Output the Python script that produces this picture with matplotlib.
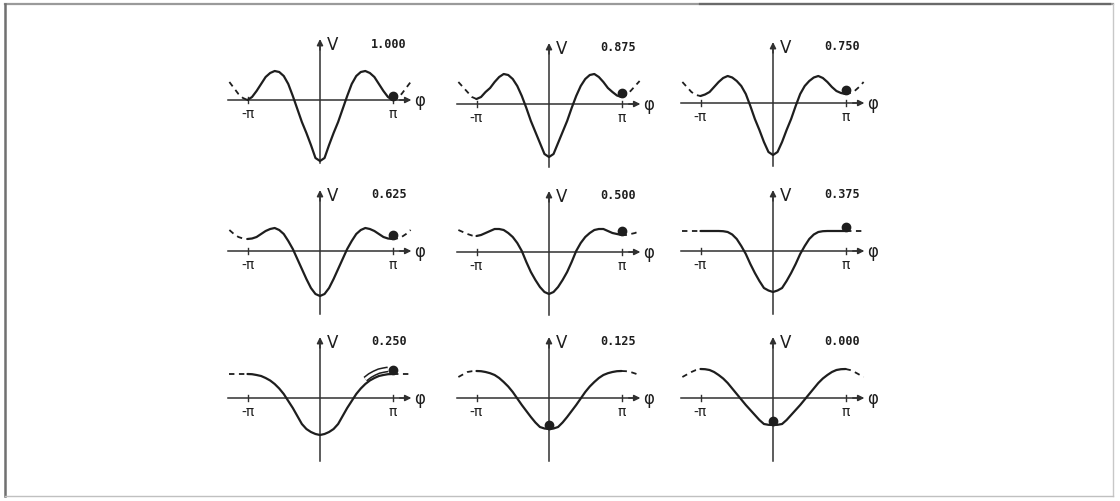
import numpy as np
import matplotlib
matplotlib.use("Agg")
import matplotlib.pyplot as plt
from matplotlib.lines import Line2D
import matplotlib.transforms as mtransforms

# ---------------- data ----------------
# phi in units of pi, step 1/16
phi = [-1.25, -1.1875, -1.125, -1.0625, -1.0, -0.9375, -0.875, -0.8125, -0.75, -0.6875,
       -0.625, -0.5625, -0.5, -0.4375, -0.375, -0.3125, -0.25, -0.1875, -0.125, -0.0625,
       0.0,
       0.0625, 0.125, 0.1875, 0.25, 0.3125, 0.375, 0.4375, 0.5, 0.5625, 0.625,
       0.6875, 0.75, 0.8125, 0.875, 0.9375, 1.0, 1.0625, 1.125, 1.1875, 1.25]

labels = ["1.000", "0.875", "0.750", "0.625", "0.500", "0.375", "0.250", "0.125", "0.000"]

v_1000 = [1.8, 1.2, 0.6, 0.2, 0.0, 0.3, 0.9, 1.6, 2.3, 2.7, 2.9, 2.8, 2.4, 1.6, 0.4, -0.9,
          -2.2, -3.3, -4.5, -5.8,
          -6.1,
          -5.8, -4.5, -3.3, -2.2, -0.9, 0.4, 1.6, 2.4, 2.8, 2.9, 2.7, 2.3, 1.6, 0.9, 0.3,
          0.0, 0.2, 0.6, 1.2, 1.8]
v_0875 = [2.2, 1.7, 1.2, 0.7, 0.5, 0.7, 1.2, 1.6, 2.2, 2.7, 3.0, 2.9, 2.5, 1.8, 0.8, -0.4,
          -1.7, -2.8, -3.9, -5.0,
          -5.3,
          -5.0, -3.9, -2.8, -1.7, -0.4, 0.8, 1.8, 2.5, 2.9, 3.0, 2.7, 2.2, 1.6, 1.2, 0.85,
          0.7, 0.9, 1.3, 1.8, 2.3]
v_0750 = [2.1, 1.6, 1.1, 0.8, 0.7, 0.85, 1.1, 1.6, 2.1, 2.5, 2.7, 2.55, 2.2, 1.7, 0.9, -0.3,
          -1.6, -2.7, -3.9, -4.9,
          -5.2,
          -4.9, -3.9, -2.7, -1.6, -0.3, 0.9, 1.7, 2.2, 2.55, 2.7, 2.5, 2.1, 1.6, 1.2, 1.0,
          0.9, 1.0, 1.2, 1.6, 2.1]
v_0625 = [2.1, 1.7, 1.4, 1.25, 1.2, 1.25, 1.4, 1.7, 2.0, 2.2, 2.3, 2.1, 1.7, 1.0, 0.2, -0.8,
          -1.8, -2.8, -3.7, -4.3,
          -4.5,
          -4.3, -3.7, -2.8, -1.8, -0.8, 0.2, 1.0, 1.7, 2.1, 2.3, 2.2, 2.0, 1.7, 1.4, 1.25,
          1.2, 1.25, 1.4, 1.7, 2.1]
v_0500 = [2.2, 2.0, 1.8, 1.65, 1.6, 1.7, 1.9, 2.1, 2.3, 2.3, 2.2, 1.9, 1.5, 0.9, 0.1, -1.0,
          -2.0, -2.8, -3.5, -4.0,
          -4.2,
          -4.0, -3.5, -2.8, -2.0, -1.0, 0.1, 0.9, 1.5, 1.9, 2.2, 2.3, 2.3, 2.1, 1.9, 1.8,
          1.7, 1.7, 1.8, 1.9, 2.1]
v_0375 = [2.0, 2.0, 2.0, 2.0, 2.0, 2.0, 2.0, 2.0, 2.0, 1.98, 1.9, 1.65, 1.2, 0.5, -0.3, -1.3,
          -2.2, -3.0, -3.7, -3.95,
          -4.1,
          -3.95, -3.7, -3.0, -2.2, -1.3, -0.3, 0.5, 1.2, 1.65, 1.9, 1.98, 2.0, 2.0, 2.0, 2.0,
          2.0, 2.0, 2.0, 2.0, 2.0]
v_0250 = [2.4, 2.4, 2.4, 2.4, 2.4, 2.38, 2.3, 2.2, 2.0, 1.75, 1.4, 0.95, 0.4, -0.3, -1.0, -1.8,
          -2.6, -3.1, -3.4, -3.6,
          -3.7,
          -3.6, -3.4, -3.1, -2.6, -1.8, -1.0, -0.3, 0.4, 0.95, 1.4, 1.75, 2.0, 2.2, 2.3, 2.38,
          2.4, 2.4, 2.4, 2.4, 2.4]
v_0125 = [2.1, 2.35, 2.6, 2.68, 2.7, 2.68, 2.6, 2.48, 2.3, 2.0, 1.6, 1.15, 0.6, -0.05, -0.7, -1.3,
          -1.9, -2.45, -2.9, -3.05,
          -3.1,
          -3.05, -2.9, -2.45, -1.9, -1.3, -0.7, -0.05, 0.6, 1.15, 1.6, 2.0, 2.3, 2.48, 2.6, 2.68,
          2.7, 2.68, 2.6, 2.45, 2.3]
v_0000 = [2.1, 2.35, 2.6, 2.8, 2.9, 2.88, 2.8, 2.6, 2.3, 1.95, 1.5, 0.95, 0.4, -0.15, -0.7, -1.2,
          -1.7, -2.2, -2.6, -2.68,
          -2.7,
          -2.68, -2.6, -2.2, -1.7, -1.2, -0.7, -0.15, 0.4, 0.95, 1.5, 1.95, 2.3, 2.6, 2.8, 2.88,
          2.9, 2.8, 2.6, 2.35, 2.1]

curves = [v_1000, v_0875, v_0750, v_0625, v_0500, v_0375, v_0250, v_0125, v_0000]
ball_phi = [1.0, 1.0, 1.0, 1.0, 1.0, 1.0, 1.0, 0.0, 0.0]

# ---------------- layout ----------------
W, H = 1120, 502
fig = plt.figure(figsize=(W / 100, H / 100), dpi=100)
fig.patch.set_facecolor("white")

centers_x = [320, 549, 773]
axis_y = [[101, 105, 104], [252, 253, 252], [399, 399, 399]]
PX_PER_PI = 72.5
BOX_W, BOX_H = 240, 150
PX_PER_V = 10.0

ink = "#1e1e1e"
axc = "#303030"

for i, (vals, lab, bphi) in enumerate(zip(curves, labels, ball_phi)):
    r, c = divmod(i, 3)
    cx = centers_x[c]
    ay = axis_y[r][c]
    left = (cx - BOX_W / 2) / W
    bottom = (H - (ay + BOX_H / 2)) / H
    ax = fig.add_axes([left, bottom, BOX_W / W, BOX_H / H])
    ax.set_xlim(-BOX_W / 2 / PX_PER_PI, BOX_W / 2 / PX_PER_PI)
    ax.set_ylim(-BOX_H / 2 / PX_PER_V, BOX_H / 2 / PX_PER_V)
    ax.axis("off")

    x = np.array(phi)
    y = np.array(vals)

    # axes with arrows
    ax.plot([-1.27, 1.18], [0, 0], color=axc, lw=1.1, zorder=1)
    ax.annotate("", xy=(1.26, 0), xytext=(1.10, 0),
                arrowprops=dict(arrowstyle="-|>", color=axc, lw=1.1,
                                mutation_scale=9, shrinkA=0, shrinkB=0))
    ax.plot([0, 0], [-6.3, 5.3], color=axc, lw=1.1, zorder=1)
    ax.annotate("", xy=(0, 6.1), xytext=(0, 5.0),
                arrowprops=dict(arrowstyle="-|>", color=axc, lw=1.1,
                                mutation_scale=9, shrinkA=0, shrinkB=0))
    for t in (-1.0, 1.0):
        ax.plot([t, t], [-0.3, 0.3], color=axc, lw=1.0)

    # curve: solid inside [-pi, pi], dashed outside
    inside = (x >= -1.0) & (x <= 1.0)
    ax.plot(x[inside], y[inside], color=ink, lw=1.6, zorder=3,
            solid_capstyle="round", solid_joinstyle="round")
    lm = x <= -1.0
    rm = x >= 1.0
    ax.plot(x[lm], y[lm], color=ink, lw=1.3, ls=(0, (3, 2.5)), zorder=3)
    ax.plot(x[rm], y[rm], color=ink, lw=1.3, ls=(0, (3, 2.5)), zorder=3)

    # ball resting on the curve
    by = float(np.interp(bphi, x, y))
    tr = mtransforms.offset_copy(ax.transData, fig=fig, x=0, y=2.8, units="points")
    ax.plot([bphi], [by], marker="o", ms=6.0, color=ink, transform=tr, zorder=5)

    # rolling arrow indicator in the 0.250 panel
    if lab == "0.250":
        seg = (x >= 0.6) & (x <= 0.95)
        tr2 = mtransforms.offset_copy(ax.transData, fig=fig, x=0, y=3.5, units="points")
        ax.plot(x[seg], y[seg], color=ink, lw=4.2, transform=tr2, zorder=4,
                solid_capstyle="butt")
        ax.plot(x[seg], y[seg], color="white", lw=2.0, transform=tr2, zorder=4,
                solid_capstyle="butt")

    # texts
    ax.text(13 / PX_PER_PI, 5.6, "V", fontsize=12, color=ink,
            ha="center", va="center", family="DejaVu Sans")
    ax.text(69 / PX_PER_PI, 5.7, lab, fontsize=8.5, color=ink, fontweight="bold",
            ha="center", va="center", family="DejaVu Sans Mono")
    ax.text(100 / PX_PER_PI, 0.0, "φ", fontsize=12, color=ink,
            ha="center", va="center", family="DejaVu Sans")
    ax.text(-1.0, -1.35, "-π", fontsize=10, color=ink,
            ha="center", va="center", family="DejaVu Sans")
    ax.text(1.0, -1.35, "π", fontsize=10, color=ink,
            ha="center", va="center", family="DejaVu Sans")

# ---------------- border of the scanned frame ----------------
def fx(px):
    return px / W

def fy(py):
    return 1 - py / H

fig.add_artist(Line2D([fx(5), fx(1113)], [fy(5), fy(5)], color="#9a9a9a", lw=1.6))
fig.add_artist(Line2D([fx(700), fx(1110)], [fy(5), fy(5)], color="#6a6a6a", lw=1.6))
fig.add_artist(Line2D([fx(5), fx(5)], [fy(5), fy(497)], color="#707070", lw=1.8))
fig.add_artist(Line2D([fx(1113), fx(1113)], [fy(5), fy(497)], color="#c8c8c8", lw=1.0))
fig.add_artist(Line2D([fx(5), fx(1113)], [fy(497), fy(497)], color="#c0c0c0", lw=1.0))

fig.savefig("out.png", dpi=100, facecolor="white")
